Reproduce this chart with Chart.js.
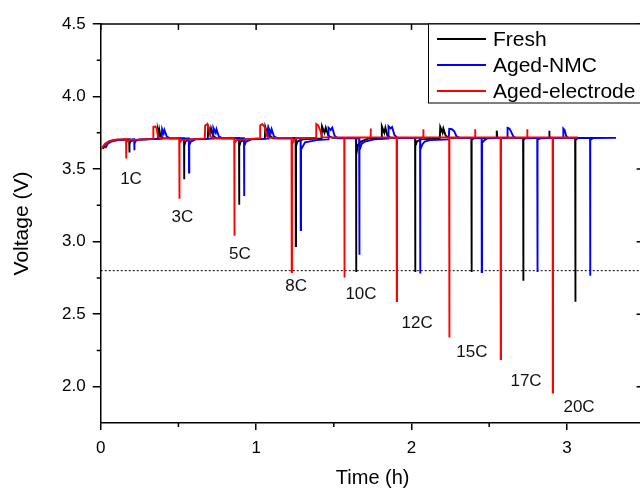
<!DOCTYPE html>
<html>
<head>
<meta charset="utf-8">
<script src="https://cdn.jsdelivr.net/npm/chart.js@4/dist/chart.umd.min.js"></script>
<style>
  html, body { margin: 0; padding: 0; background: #fff; overflow: hidden; }
  #wrap { width: 660px; height: 488px; }
</style>
</head>
<body>
<div id="wrap"><canvas id="pulseChart" width="660" height="488"></canvas></div>
<script>
/* HPPC pulse test: cell voltage vs time for three cell states */

const seriesNames  = ['Fresh', 'Aged-NMC', 'Aged-electrode'];
const seriesColors = ['#000000', '#0000ff', '#ff0000'];

const xTicks      = [0, 1, 2, 3];
const xMinorTicks = [0.5, 1.5, 2.5, 3.5];
const yTicks      = [2.0, 2.5, 3.0, 3.5, 4.0, 4.5];
const yMinorTicks = [2.25, 2.75, 3.25, 3.75, 4.25];

const cutoffVoltage = 2.8;

const rateLabels  = ['1C', '3C', '5C', '8C', '10C', '12C', '15C', '17C', '20C'];
const rateLabelAt = [[0.195, 3.43], [0.526, 3.17], [0.896, 2.91], [1.257, 2.69], [1.675, 2.64],
                     [2.036, 2.44], [2.389, 2.24], [2.737, 2.04], [3.078, 1.86]];

// [time (h), voltage (V)]
const freshV = [
  [0.015, 3.64], [0.03, 3.675], [0.06, 3.695], [0.10, 3.703], [0.183, 3.705],
  [0.184, 3.705], [0.184, 3.614], [0.186, 3.614], [0.186, 3.67], [0.19, 3.69], [0.21, 3.70], [0.366, 3.708],
  [0.367, 3.708], [0.368, 3.77], [0.374, 3.74], [0.377, 3.77], [0.385, 3.725], [0.40, 3.712], [0.535, 3.712],
  [0.536, 3.712], [0.536, 3.43], [0.538, 3.43], [0.538, 3.66], [0.545, 3.69], [0.57, 3.705], [0.689, 3.71],
  [0.69, 3.71], [0.692, 3.79], [0.705, 3.745], [0.71, 3.78], [0.725, 3.725], [0.745, 3.713], [0.889, 3.713],
  [0.890, 3.713], [0.890, 3.255], [0.892, 3.255], [0.892, 3.655], [0.90, 3.69], [0.93, 3.705], [1.056, 3.71],
  [1.057, 3.71], [1.059, 3.79], [1.072, 3.745], [1.078, 3.78], [1.09, 3.725], [1.11, 3.713], [1.254, 3.713],
  [1.255, 3.713], [1.255, 2.97], [1.257, 2.97], [1.257, 3.655], [1.265, 3.69], [1.30, 3.705], [1.421, 3.712],
  [1.422, 3.712], [1.424, 3.795], [1.44, 3.75], [1.448, 3.785], [1.465, 3.73], [1.49, 3.715], [1.642, 3.715],
  [1.643, 3.715], [1.643, 2.79], [1.645, 2.79], [1.645, 3.60], [1.655, 3.665], [1.675, 3.69], [1.72, 3.71], [1.807, 3.712],
  [1.808, 3.712], [1.81, 3.795], [1.825, 3.75], [1.832, 3.785], [1.845, 3.73], [1.865, 3.715], [2.022, 3.715],
  [2.023, 3.715], [2.023, 2.79], [2.025, 2.79], [2.025, 3.657], [2.035, 3.69], [2.06, 3.705], [2.182, 3.712],
  [2.183, 3.712], [2.185, 3.79], [2.20, 3.75], [2.205, 3.78], [2.22, 3.73], [2.24, 3.715], [2.385, 3.715],
  [2.386, 3.715], [2.386, 2.79], [2.388, 2.79], [2.388, 3.70], [2.40, 3.713], [2.547, 3.715],
  [2.548, 3.715], [2.549, 3.765], [2.552, 3.72], [2.56, 3.715], [2.718, 3.715],
  [2.719, 3.715], [2.719, 2.73], [2.721, 2.73], [2.721, 3.70], [2.73, 3.713], [2.884, 3.715],
  [2.885, 3.715], [2.886, 3.765], [2.889, 3.72], [2.90, 3.715], [3.053, 3.715],
  [3.054, 3.715], [3.054, 2.586], [3.056, 2.586], [3.056, 3.70], [3.07, 3.714], [3.20, 3.715]
];

const agedNmcV = [
  [0.03, 3.645], [0.045, 3.675], [0.07, 3.69], [0.11, 3.70], [0.215, 3.705],
  [0.216, 3.705], [0.216, 3.63], [0.218, 3.63], [0.218, 3.675], [0.225, 3.695], [0.25, 3.705], [0.392, 3.708],
  [0.393, 3.708], [0.395, 3.775], [0.405, 3.745], [0.41, 3.77], [0.425, 3.725], [0.445, 3.712], [0.567, 3.712],
  [0.568, 3.712], [0.568, 3.477], [0.570, 3.477], [0.570, 3.665], [0.58, 3.69], [0.61, 3.705], [0.722, 3.71],
  [0.723, 3.71], [0.725, 3.785], [0.74, 3.75], [0.745, 3.775], [0.76, 3.725], [0.78, 3.713], [0.921, 3.713],
  [0.922, 3.713], [0.922, 3.314], [0.924, 3.314], [0.924, 3.66], [0.935, 3.69], [0.97, 3.705], [1.078, 3.71],
  [1.079, 3.71], [1.081, 3.785], [1.095, 3.75], [1.10, 3.775], [1.115, 3.725], [1.135, 3.713], [1.286, 3.713],
  [1.287, 3.713], [1.287, 3.08], [1.289, 3.08], [1.289, 3.635], [1.315, 3.685], [1.39, 3.70], [1.462, 3.705],
  [1.463, 3.705], [1.466, 3.785], [1.48, 3.77], [1.49, 3.785], [1.505, 3.73], [1.525, 3.713], [1.663, 3.713],
  [1.664, 3.713], [1.664, 2.91], [1.666, 2.91], [1.666, 3.63], [1.68, 3.675], [1.70, 3.69], [1.76, 3.705], [1.848, 3.71],
  [1.849, 3.71], [1.852, 3.795], [1.865, 3.78], [1.875, 3.79], [1.89, 3.735], [1.91, 3.715], [2.054, 3.715],
  [2.055, 3.715], [2.055, 2.78], [2.057, 2.78], [2.057, 3.635], [2.07, 3.67], [2.085, 3.69], [2.12, 3.70], [2.239, 3.705],
  [2.24, 3.705], [2.243, 3.777], [2.26, 3.775], [2.275, 3.76], [2.29, 3.725], [2.31, 3.715], [2.451, 3.715],
  [2.452, 3.715], [2.452, 2.79], [2.454, 2.79], [2.454, 3.68], [2.47, 3.70], [2.49, 3.713], [2.616, 3.715],
  [2.617, 3.715], [2.619, 3.784], [2.63, 3.78], [2.64, 3.76], [2.655, 3.725], [2.67, 3.715], [2.809, 3.715],
  [2.810, 3.715], [2.810, 2.79], [2.812, 2.79], [2.812, 3.70], [2.83, 3.713], [2.974, 3.715],
  [2.975, 3.715], [2.977, 3.78], [2.985, 3.77], [2.995, 3.73], [3.005, 3.715], [3.148, 3.715],
  [3.149, 3.715], [3.149, 2.765], [3.151, 2.765], [3.151, 3.70], [3.17, 3.714], [3.316, 3.715]
];

const agedElectrodeV = [
  [0.0, 3.635], [0.02, 3.665], [0.05, 3.69], [0.10, 3.703], [0.162, 3.706],
  [0.163, 3.706], [0.163, 3.573], [0.165, 3.573], [0.165, 3.68], [0.175, 3.70], [0.337, 3.708],
  [0.338, 3.708], [0.339, 3.79], [0.35, 3.795], [0.36, 3.78], [0.37, 3.72], [0.38, 3.712], [0.505, 3.712],
  [0.506, 3.712], [0.506, 3.296], [0.508, 3.296], [0.508, 3.68], [0.52, 3.70], [0.670, 3.712],
  [0.671, 3.712], [0.672, 3.80], [0.685, 3.81], [0.695, 3.79], [0.705, 3.725], [0.72, 3.713], [0.859, 3.713],
  [0.860, 3.713], [0.860, 3.04], [0.862, 3.04], [0.862, 3.68], [0.875, 3.70], [1.024, 3.713],
  [1.025, 3.713], [1.026, 3.80], [1.04, 3.81], [1.055, 3.79], [1.07, 3.725], [1.085, 3.715], [1.228, 3.715],
  [1.229, 3.715], [1.229, 2.79], [1.231, 2.79], [1.231, 3.67], [1.245, 3.70], [1.26, 3.715], [1.385, 3.715],
  [1.386, 3.715], [1.387, 3.81], [1.40, 3.80], [1.415, 3.76], [1.423, 3.72], [1.567, 3.718],
  [1.568, 3.718], [1.568, 2.753], [1.570, 2.753], [1.570, 3.718], [1.736, 3.718],
  [1.737, 3.718], [1.737, 3.78], [1.739, 3.72], [1.904, 3.718],
  [1.905, 3.718], [1.905, 2.59], [1.907, 2.59], [1.907, 3.718], [2.075, 3.718],
  [2.076, 3.718], [2.076, 3.775], [2.078, 3.72], [2.242, 3.718],
  [2.243, 3.718], [2.243, 2.34], [2.245, 2.34], [2.245, 3.718], [2.408, 3.718],
  [2.409, 3.718], [2.409, 3.775], [2.411, 3.72], [2.573, 3.718],
  [2.574, 3.718], [2.574, 2.19], [2.576, 2.19], [2.576, 3.718], [2.744, 3.718],
  [2.745, 3.718], [2.745, 3.775], [2.747, 3.72], [2.908, 3.718],
  [2.909, 3.718], [2.909, 1.96], [2.911, 1.96], [2.911, 3.718], [3.07, 3.718]
];

const FONT = "'Liberation Sans', Arial, sans-serif";
const toXY = arr => arr.map(([x, y]) => ({ x, y }));

/* ── frame, minor ticks, C-rate labels, legend ── */
const originFrame = {
  id: 'originFrame',
  afterDraw(chart) {
    const { ctx, chartArea: a, scales: { x, y } } = chart;
    ctx.save();
    ctx.strokeStyle = '#000';
    ctx.lineWidth = 1.5;

    // top + right border
    ctx.beginPath();
    ctx.moveTo(a.left, a.top); ctx.lineTo(a.right, a.top); ctx.lineTo(a.right, a.bottom);
    ctx.stroke();

    ctx.beginPath();
    xTicks.concat(xMinorTicks).forEach(v => {
      const px = x.getPixelForValue(v);
      ctx.moveTo(px, a.top); ctx.lineTo(px, a.top + 6);
    });
    xMinorTicks.forEach(v => {
      const px = x.getPixelForValue(v);
      ctx.moveTo(px, a.bottom); ctx.lineTo(px, a.bottom + 4);
    });
    yMinorTicks.forEach(v => {
      const py = y.getPixelForValue(v);
      ctx.moveTo(a.left, py); ctx.lineTo(a.left - 4, py);
      ctx.moveTo(a.right, py); ctx.lineTo(a.right - 4, py);
    });
    yTicks.forEach(v => {
      const py = y.getPixelForValue(v);
      ctx.moveTo(a.right, py); ctx.lineTo(a.right - 8, py);
    });
    ctx.stroke();

    // C-rate annotations
    ctx.fillStyle = '#111';
    ctx.font = '17px ' + FONT;
    ctx.textAlign = 'center';
    ctx.textBaseline = 'middle';
    rateLabels.forEach((txt, i) => {
      const [t, v] = rateLabelAt[i];
      ctx.fillText(txt, x.getPixelForValue(t), y.getPixelForValue(v));
    });

    // legend box
    const bx = 428.5, by = a.top, bw = 240, bh = 79;
    ctx.fillStyle = '#fff';
    ctx.fillRect(bx, by, bw, bh);
    ctx.lineWidth = 1;
    ctx.strokeStyle = '#000';
    ctx.strokeRect(bx, by, bw, bh);
    ctx.font = '21px ' + FONT;
    ctx.textAlign = 'left';
    seriesNames.forEach((name, i) => {
      const ly = by + 15 + i * 26;
      ctx.strokeStyle = seriesColors[i];
      ctx.lineWidth = 2;
      ctx.beginPath(); ctx.moveTo(437, ly); ctx.lineTo(486, ly); ctx.stroke();
      ctx.fillStyle = '#000';
      ctx.fillText(name, 493, ly + 1);
    });
    ctx.restore();
  }
};

const bgFill = {
  id: 'bgFill',
  beforeDraw(chart) {
    const { ctx, width, height } = chart;
    ctx.save(); ctx.fillStyle = '#fff'; ctx.fillRect(0, 0, width, height); ctx.restore();
  }
};

const seriesData = [freshV, agedNmcV, agedElectrodeV];

new Chart(document.getElementById('pulseChart'), {
  type: 'line',
  data: {
    datasets: seriesData.map((d, i) => ({
      label: seriesNames[i],
      data: toXY(d),
      borderColor: seriesColors[i],
      borderWidth: 1.9,
      pointRadius: 0,
      tension: 0,
      order: 3 - i
    })).concat([{
      label: 'cutoff',
      data: toXY([[0, cutoffVoltage], [3.5, cutoffVoltage]]),
      borderColor: '#000',
      borderWidth: 1,
      borderDash: [2, 2],
      pointRadius: 0,
      order: 10
    }])
  },
  options: {
    responsive: false,
    animation: false,
    events: [],
    layout: { padding: { left: 0, right: 15.4, top: 24, bottom: 0 } },
    plugins: { legend: { display: false }, tooltip: { enabled: false } },
    scales: {
      x: {
        type: 'linear', min: 0, max: 3.5,
        afterBuildTicks: s => { s.ticks = xTicks.map(v => ({ value: v })); },
        grid: { drawOnChartArea: false, drawTicks: true, tickLength: 7, color: '#000', lineWidth: 1.5 },
        border: { color: '#000', width: 1.5 },
        ticks: { color: '#000', padding: 9.5, font: { family: FONT, size: 17, lineHeight: 1 }, maxRotation: 0 },
        title: { display: true, text: 'Time (h)', color: '#000', font: { family: FONT, size: 20, lineHeight: 1 },
                 padding: { top: 2, bottom: 0 } }
      },
      y: {
        type: 'linear', min: 1.75, max: 4.5,
        afterBuildTicks: s => { s.ticks = yTicks.map(v => ({ value: v })); },
        grid: { drawOnChartArea: false, drawTicks: true, tickLength: 8, color: '#000', lineWidth: 1.5 },
        border: { color: '#000', width: 1.5 },
        ticks: { color: '#000', padding: 7, font: { family: FONT, size: 17, lineHeight: 1 },
                 callback: v => v.toFixed(1) },
        title: { display: true, text: 'Voltage (V)', color: '#000', font: { family: FONT, size: 21, lineHeight: 1 },
                 padding: { top: 11.5, bottom: 22.6 } }
      }
    }
  },
  plugins: [bgFill, originFrame]
});
</script>
</body>
</html>
